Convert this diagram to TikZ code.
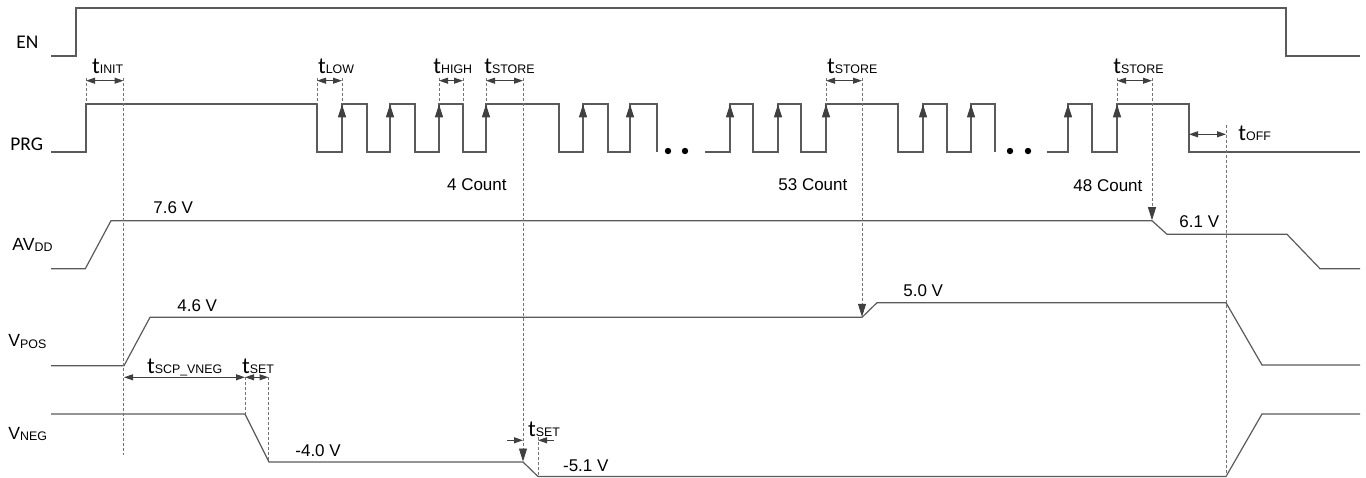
\documentclass[tikz,border=0pt]{standalone}
\usepackage{fontspec}
\setmainfont{Liberation Sans}
\newfontfamily\calfont{Carlito}
\usetikzlibrary{arrows.meta}

\definecolor{wavegray}{RGB}{90,90,90}
\definecolor{guidegray}{RGB}{115,115,115}
\definecolor{tipgray}{RGB}{64,64,64}

\newcommand{\tname}[1]{{\calfont\fontsize{11.5}{13}\selectfont t}{\fontsize{6.2}{7}\selectfont #1}}
\newcommand{\sname}[2]{{\fontsize{8.8}{10}\selectfont #1}\raisebox{-0.7pt}{\fontsize{6.2}{7}\selectfont #2}}

\begin{document}
\begin{tikzpicture}[x=0.5pt, y=-0.5pt,
    every node/.style={anchor=base west, inner sep=0pt},
    signame/.style={font=\calfont\fontsize{9.7}{11}\selectfont},
    val/.style={font=\fontsize{8.5}{10}\selectfont},
    waveline/.style={wavegray, line width=0.6pt},
    dashguide/.style={guidegray, line width=0.4pt, dash pattern=on 1.5pt off 1pt},
    timespan/.style={tipgray, line width=0.5pt, {Triangle[length=4.5pt,width=3pt]}-{Triangle[length=4.5pt,width=3pt]}},
    timetip/.style={tipgray, line width=0.5pt, -{Triangle[length=4.5pt,width=3pt]}},
    riseup/.style={waveline, -{Triangle[length=6.5pt,width=4pt,color=tipgray]}},
    dropdown/.style={dashguide, -{Triangle[length=6.5pt,width=4pt,color=tipgray]}}]
    \useasboundingbox (0,0) rectangle (1366,477);

    % signal names
    \node[signame] (en) at (16,48) {EN};
    \node[signame] (prg) at (10,150) {PRG};
    \node (avdd) at (12,250) {\sname{AV}{DD}};
    \node (vpos) at (8,346.7) {\sname{V}{POS}};
    \node (vneg) at (8,439) {\sname{V}{NEG}};

    % EN
    \draw[waveline] (51,56) -- (76,56) -- (76,8) -- (1286,8) -- (1286,56) -- (1360,56);

    % PRG
    \draw[waveline] (51,152) -- (86,152) -- (86,104) -- (317,104) -- (317,152) -- (342,152) -- (342,104)
        -- (367,104) -- (367,152) -- (390,152) -- (390,104) -- (415,104) -- (415,152) -- (439,152) -- (439,104)
        -- (463,104) -- (463,152) -- (486,152) -- (486,104) -- (559,104) -- (559,152) -- (583,152) -- (583,104)
        -- (608,104) -- (608,152) -- (630,152) -- (630,104) -- (657,104) -- (657,152);
    \draw[waveline] (705,152) -- (730,152) -- (730,104) -- (753,104) -- (753,152) -- (778,152) -- (778,104)
        -- (801,104) -- (801,152) -- (826,152) -- (826,104) -- (898,104) -- (898,152) -- (923,152) -- (923,104)
        -- (947,104) -- (947,152) -- (971,152) -- (971,104) -- (995,104) -- (995,152);
    \draw[waveline] (1047,152) -- (1068,152) -- (1068,104) -- (1092,104) -- (1092,152) -- (1117,152)
        -- (1117,104) -- (1189,104) -- (1189,152) -- (1360,152);
    % rising edges
    \draw[riseup] (342,152) -- (342,104.3);
    \draw[riseup] (390,152) -- (390,104.3);
    \draw[riseup] (439,152) -- (439,104.3);
    \draw[riseup] (486,152) -- (486,104.3);
    \draw[riseup] (583,152) -- (583,104.3);
    \draw[riseup] (630,152) -- (630,104.3);
    \draw[riseup] (730,152) -- (730,104.3);
    \draw[riseup] (778,152) -- (778,104.3);
    \draw[riseup] (826,152) -- (826,104.3);
    \draw[riseup] (923,152) -- (923,104.3);
    \draw[riseup] (971,152) -- (971,104.3);
    \draw[riseup] (1068,152) -- (1068,104.3);
    \draw[riseup] (1117,152) -- (1117,104.3);
    % skipped pulses
    \fill[black] (668,151) circle (1.6pt) (685,151) circle (1.6pt);
    \fill[black] (1010,151) circle (1.6pt) (1028,151) circle (1.6pt);

    % AVDD
    \draw[waveline] (51,268.7) -- (85.3,268.7) -- (111,220.7) -- (1152,220.7) -- (1167,234.3)
        -- (1287,234.3) -- (1320,268.7) -- (1360,268.7);
    % VPOS
    \draw[waveline] (51,365.7) -- (124,365.7) -- (150,317.3) -- (862,317.3) -- (877,302.7)
        -- (1226,302.7) -- (1262,365) -- (1360,365);
    % VNEG
    \draw[waveline] (51,414) -- (245,414) -- (269,462) -- (523,462) -- (538,476.5)
        -- (1226,476.5) -- (1262,414) -- (1360,414);

    % dashed markers
    \draw[dashguide] (86,78) -- (86,104);
    \draw[dashguide] (123.5,78) -- (123.5,455);
    \draw[dashguide] (317,78) -- (317,104);
    \draw[dashguide] (342,78) -- (342,104);
    \draw[dashguide] (439,78) -- (439,104);
    \draw[dashguide] (463,78) -- (463,104);
    \draw[dashguide] (486,78) -- (486,104);
    \draw[dashguide] (826,78) -- (826,104);
    \draw[dashguide] (1117,78) -- (1117,104);
    \draw[dashguide] (1226,125) -- (1226,476);
    \draw[dashguide] (245,377) -- (245,414);
    \draw[dashguide] (268.5,377) -- (268.5,462);
    \draw[dashguide] (538,437) -- (538,476.5);
    % store steps
    \draw[dropdown] (523,78) -- (523,461.5);
    \draw[dropdown] (862,78) -- (862,316.8);
    \draw[dropdown] (1152,78) -- (1152,220.2);

    % timing spans
    \draw[timespan] (86,80.7) -- (123.5,80.7);
    \draw[timespan] (317,80.7) -- (342,80.7);
    \draw[timespan] (439,80.7) -- (463,80.7);
    \draw[timespan] (486,80.7) -- (523,80.7);
    \draw[timespan] (826,80.7) -- (862,80.7);
    \draw[timespan] (1117,80.7) -- (1152,80.7);
    \draw[timespan] (1189,134.3) -- (1226,134.3);
    \draw[timespan] (124,377.3) -- (245,377.3);
    \draw[timespan] (245,377.3) -- (268.5,377.3);
    \draw[timetip] (507,440.3) -- (523,440.3);
    \draw[timetip] (554,440.3) -- (538,440.3);

    % timing labels
    \node (tinit) at (91.7,73.5) {\tname{INIT}};
    \node (tlow) at (317.7,73.5) {\tname{LOW}};
    \node (thigh) at (433,73.5) {\tname{HIGH}};
    \node (tstore1) at (484,73.5) {\tname{STORE}};
    \node (tstore2) at (826.7,73.5) {\tname{STORE}};
    \node (tstore3) at (1113,73.5) {\tname{STORE}};
    \node (toff) at (1238,140) {\tname{OFF}};
    \node (tscp) at (146.7,373) {\tname{SCP\_VNEG}};
    \node (tset1) at (241.7,373) {\tname{SET}};
    \node (tset2) at (527.7,436.7) {\tname{SET}};

    % counts and levels
    \node[val] (cnt4) at (446.7,190.7) {4 Count};
    \node[val] (cnt53) at (778,190.7) {53 Count};
    \node[val] (cnt48) at (1073,191.7) {48 Count};
    \node[val] (av76) at (153,213.3) {7.6 V};
    \node[val] (av61) at (1179,227.3) {6.1 V};
    \node[val] (vp46) at (177,311) {4.6 V};
    \node[val] (vp50) at (903,296) {5.0 V};
    \node[val] (vn40) at (295,456) {-4.0 V};
    \node[val] (vn51) at (562.7,471.7) {-5.1 V};
\end{tikzpicture}
\end{document}
